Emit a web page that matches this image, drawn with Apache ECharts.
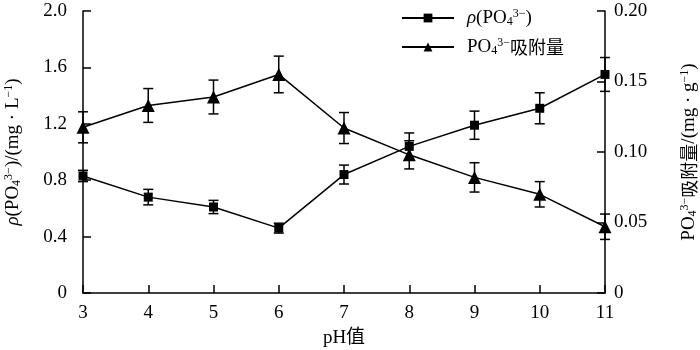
<!DOCTYPE html>
<html>
<head>
<meta charset="utf-8">
<script src="https://cdn.jsdelivr.net/npm/echarts@6/dist/echarts.min.js"></script>
<style>
  html, body { margin: 0; padding: 0; background: #fff; }
  #main { width: 700px; height: 350px; }
</style>
</head>
<body>
<div id="main"></div>
<script>
// pH values
var phValues = [3, 4, 5, 6, 7, 8, 9, 10, 11];
// rho(PO4 3-) mg/L, left axis
var rhoValues = [0.83, 0.68, 0.61, 0.46, 0.84, 1.04, 1.19, 1.31, 1.55];
var rhoErr = [0.04, 0.055, 0.047, 0.035, 0.067, 0.095, 0.10, 0.11, 0.12];
// PO4 3- adsorption mg/g, right axis
var adsValues = [0.1175, 0.133, 0.139, 0.155, 0.117, 0.098, 0.082, 0.070, 0.047];
var adsErr = [0.011, 0.012, 0.012, 0.013, 0.011, 0.010, 0.0104, 0.009, 0.009];
var leftTicks = [0, 2.0, 0.4];
var rightTicks = [0, 0.20, 0.05];

var chart = echarts.init(document.getElementById('main'));

var font = 'Liberation Serif, Noto Sans CJK SC, serif';
var richText = {
    i: { fontFamily: font, fontSize: 19, fontStyle: 'italic', color: '#000', lineHeight: 20 },
    n: { fontFamily: font, fontSize: 19, color: '#000', lineHeight: 20 },
    sub: { fontFamily: font, fontSize: 12, color: '#000', verticalAlign: 'bottom', lineHeight: 12, padding: [14, 0, 0, 0] },
    sup: { fontFamily: font, fontSize: 12, color: '#000', verticalAlign: 'top', lineHeight: 12, padding: [0, 0, 14, 0] },
    cn: { fontFamily: 'Noto Sans CJK SC', fontSize: 18, color: '#000', lineHeight: 20 }
};

function pairs(xs, ys) {
    return xs.map(function (x, i) { return [x, ys[i]]; });
}

function errData(xs, ys, es) {
    return xs.map(function (x, i) { return [x, ys[i] - es[i], ys[i] + es[i]]; });
}

function errRender(params, api) {
    var lo = api.coord([api.value(0), api.value(1)]);
    var hi = api.coord([api.value(0), api.value(2)]);
    var w = 5;
    var st = { stroke: '#000', lineWidth: 1.5 };
    return {
        type: 'group',
        children: [
            { type: 'line', shape: { x1: lo[0], y1: lo[1], x2: hi[0], y2: hi[1] }, style: st },
            { type: 'line', shape: { x1: lo[0] - w, y1: lo[1], x2: lo[0] + w, y2: lo[1] }, style: st },
            { type: 'line', shape: { x1: hi[0] - w, y1: hi[1], x2: hi[0] + w, y2: hi[1] }, style: st }
        ]
    };
}

var axisCommon = {
    axisLine: { show: true, lineStyle: { color: '#000', width: 1.5 } },
    axisTick: { show: true, inside: true, length: 8, lineStyle: { color: '#000', width: 1.5 } },
    splitLine: { show: false }
};

var option = {
    animation: false,
    backgroundColor: '#fff',
    grid: { left: 83, right: 95, top: 11, bottom: 57, containLabel: false, outerBoundsMode: 'none' },
    legend: {
        left: 396,
        top: -3,
        orient: 'vertical',
        itemWidth: 52,
        itemHeight: 11,
        itemGap: -3,
        data: ['rho', 'ads'],
        formatter: function (name) {
            if (name === 'rho') return '{i|ρ}{n|(PO}{sub|4}{sup|3−}{n|)}';
            return '{n|PO}{sub|4}{sup|3−}{cn|吸附量}';
        },
        textStyle: { rich: richText, padding: [0, 0, 0, 8] }
    },
    xAxis: Object.assign({}, axisCommon, {
        type: 'value',
        min: phValues[0],
        max: phValues[phValues.length - 1],
        interval: 1,
        name: 'pH值',
        nameLocation: 'middle',
        nameGap: 36,
        nameTextStyle: { color: '#000', fontFamily: font, fontSize: 19 },
        axisLabel: { color: '#000', fontFamily: font, fontSize: 19, margin: 11 }
    }),
    yAxis: [
        Object.assign({}, axisCommon, {
            type: 'value',
            position: 'left',
            min: leftTicks[0],
            max: leftTicks[1],
            interval: leftTicks[2],
            name: '{i|ρ}{n|(PO}{sub|4}{sup|3−}{n|)/(mg · L}{sup|−1}{n|)}',
            nameLocation: 'middle',
            nameRotate: 90,
            nameGap: 60,
            nameTextStyle: { rich: richText },
            axisLabel: {
                color: '#000', fontFamily: font, fontSize: 19, margin: 16,
                formatter: function (v) { return v === 0 ? '0' : v.toFixed(1); }
            }
        }),
        Object.assign({}, axisCommon, {
            type: 'value',
            position: 'right',
            min: rightTicks[0],
            max: rightTicks[1],
            interval: rightTicks[2],
            name: '{n|PO}{sub|4}{sup|3−}{cn|吸附量}{n|/(mg · g}{sup|−1}{n|)}',
            nameLocation: 'middle',
            nameRotate: 90,
            nameGap: 74,
            nameTextStyle: { rich: richText },
            axisLabel: {
                color: '#000', fontFamily: font, fontSize: 19, margin: 9,
                formatter: function (v) { return v === 0 ? '0' : v.toFixed(2); }
            }
        })
    ],
    series: [
        {
            name: 'rho',
            type: 'line',
            yAxisIndex: 0,
            data: pairs(phValues, rhoValues),
            symbol: 'rect',
            symbolSize: 9,
            lineStyle: { color: '#000', width: 1.5 },
            itemStyle: { color: '#000' },
            z: 3
        },
        {
            name: 'ads',
            type: 'line',
            yAxisIndex: 1,
            data: pairs(phValues, adsValues),
            symbol: 'triangle',
            symbolSize: 13,
            lineStyle: { color: '#000', width: 1.5 },
            itemStyle: { color: '#000' },
            z: 3
        },
        {
            type: 'custom',
            yAxisIndex: 0,
            renderItem: errRender,
            data: errData(phValues, rhoValues, rhoErr),
            z: 2
        },
        {
            type: 'custom',
            yAxisIndex: 1,
            renderItem: errRender,
            data: errData(phValues, adsValues, adsErr),
            z: 2
        }
    ]
};

chart.setOption(option);
</script>
</body>
</html>
